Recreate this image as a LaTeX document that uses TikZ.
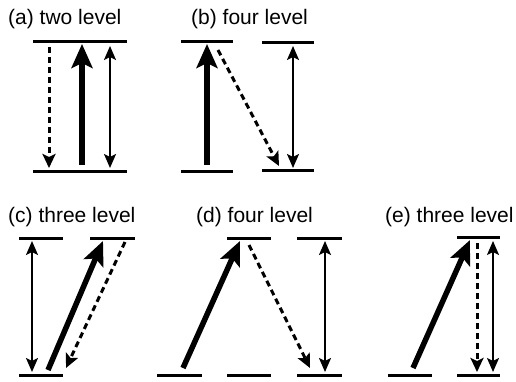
\documentclass[tikz,border=0pt]{standalone}
\usepackage{fontspec}
\setmainfont{Liberation Sans}
\usetikzlibrary{arrows.meta}
\begin{document}
\begin{tikzpicture}[x=1pt, y=-1pt,
			level/.style={line width=3pt},
			pump/.style={line width=5.5pt, -{Stealth[length=24pt,width=21pt,inset=5pt]}},
			decay/.style={line width=3pt, dash pattern=on 6pt off 4pt, -{Stealth[length=14pt,width=13pt,inset=3pt]}},
			laser/.style={line width=2pt, {Stealth[length=14pt,width=12pt,inset=3pt]}-{Stealth[length=14pt,width=12pt,inset=3pt]}},
			title/.style={anchor=base west, inner sep=0pt, font=\fontsize{21}{25}\selectfont}]
			\useasboundingbox (0,0) rectangle (516,382); % Bildbereich
			% Beschriftung
			\node[title] (ta) at (8,25) {(a) two level};
			\node[title] (tb) at (191,25) {(b) four level};
			\node[title] (tc) at (8,222) {(c) three level};
			\node[title] (td) at (196,222) {(d) four level};
			\node[title] (te) at (385,222) {(e) three level};
			% Niveaus
			\foreach \xa/\xb/\y in {33/127/42, 33/127/172, 181/233/42, 181/233/172, 262/314/43, 262/314/171,
				19/63/238, 90/135/238, 19/63/375,
				157/202/375, 227/271/238, 227/271/375, 297/342/238, 297/342/375,
				388/432/375, 457/500/237, 457/500/375}
				\draw[level] (\xa,\y) -- (\xb,\y);
			% (a) zwei Niveaus
			\coordinate (aP1) at (82,165); \coordinate (aP2) at (82,44);
			\coordinate (aD1) at (49,47); \coordinate (aD2) at (49,168);
			\coordinate (aL1) at (110,46); \coordinate (aL2) at (110,168);
			\draw[pump] (aP1) -- (aP2);
			\draw[decay] (aD1) -- (aD2);
			\draw[laser] (aL1) -- (aL2);
			% (b) vier Niveaus
			\coordinate (bP1) at (207,165); \coordinate (bP2) at (207,44);
			\coordinate (bD1) at (218,50); \coordinate (bD2) at (279,166);
			\coordinate (bL1) at (293,46); \coordinate (bL2) at (293,168);
			\draw[pump] (bP1) -- (bP2);
			\draw[decay] (bD1) -- (bD2);
			\draw[laser] (bL1) -- (bL2);
			% (c) drei Niveaus
			\coordinate (cP1) at (48,370); \coordinate (cP2) at (103,241);
			\coordinate (cD1) at (125,242); \coordinate (cD2) at (66,368);
			\coordinate (cL1) at (32,241); \coordinate (cL2) at (32,372);
			\draw[pump] (cP1) -- (cP2);
			\draw[decay] (cD1) -- (cD2);
			\draw[laser] (cL1) -- (cL2);
			% (d) vier Niveaus
			\coordinate (dP1) at (183,368); \coordinate (dP2) at (240,241);
			\coordinate (dD1) at (249,245); \coordinate (dD2) at (310,368);
			\coordinate (dL1) at (325,241); \coordinate (dL2) at (325,372);
			\draw[pump] (dP1) -- (dP2);
			\draw[decay] (dD1) -- (dD2);
			\draw[laser] (dL1) -- (dL2);
			% (e) drei Niveaus
			\coordinate (eP1) at (413,368); \coordinate (eP2) at (470,240);
			\coordinate (eD1) at (477,243); \coordinate (eD2) at (477,372);
			\coordinate (eL1) at (493,241); \coordinate (eL2) at (493,372);
			\draw[pump] (eP1) -- (eP2);
			\draw[decay] (eD1) -- (eD2);
			\draw[laser] (eL1) -- (eL2);
		\end{tikzpicture}
\end{document}
